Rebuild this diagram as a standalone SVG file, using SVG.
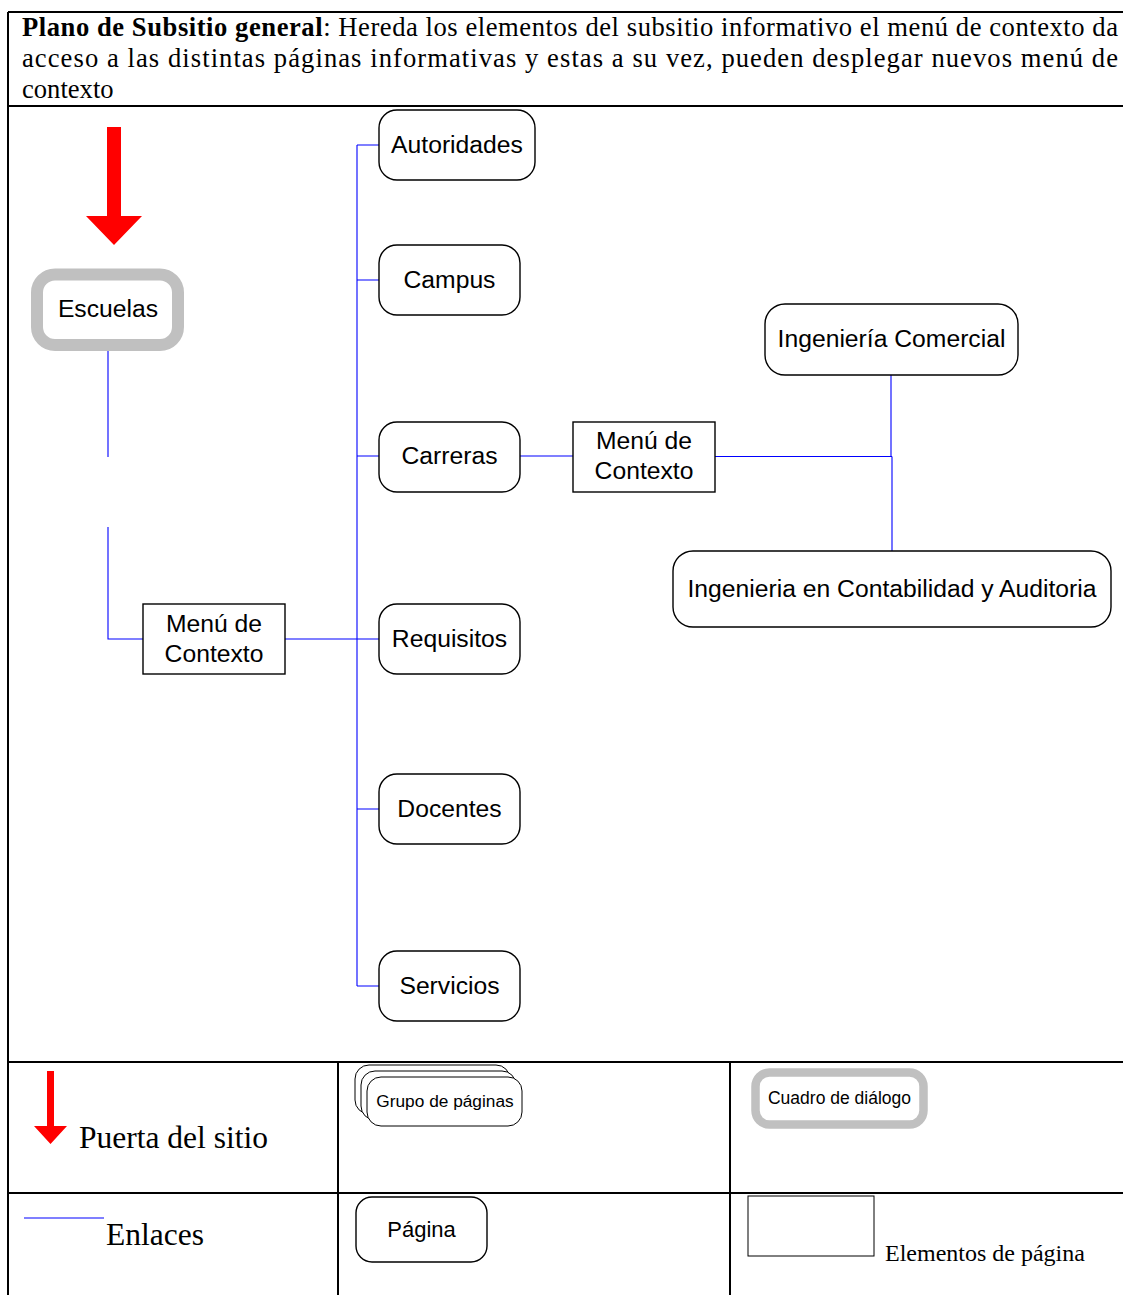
<svg xmlns="http://www.w3.org/2000/svg" width="1123" height="1295" viewBox="0 0 1123 1295">
<style>
.tb{stroke:#000;stroke-width:2;fill:none}
.pg{fill:#fff;stroke:#000;stroke-width:1.4}
.el{fill:#fff;stroke:#000;stroke-width:1.4}
.dlg{fill:#fff;stroke:#c0c0c0;stroke-width:12}
.lk{stroke:#0000ff;stroke-width:1.1;fill:none}
.a{font-family:"Liberation Sans",Arial,sans-serif;fill:#000;text-anchor:middle}
.n{font-size:24.7px}
.t{font-family:"Liberation Serif","Times New Roman",serif;fill:#000}
.arrow{fill:#ff0000}
</style>
<rect width="1123" height="1295" fill="#fff"/>
<g id="table">
<path class="tb" d="M8 12 H1130 M8 106 H1130 M8 1062 H1130 M8 1193 H1130 M8 12 V1300 M338 1062 V1300 M730 1062 V1300"/>
</g>
<g id="title" class="t" style="font-size:26.6px">
<text x="22" y="36" textLength="1096" lengthAdjust="spacing"><tspan font-weight="bold">Plano de Subsitio general</tspan>: Hereda los elementos del subsitio informativo el menú de contexto da</text>
<text x="22" y="67" textLength="1096" lengthAdjust="spacing">acceso a las distintas páginas informativas y estas a su vez, pueden desplegar nuevos menú de</text>
<text x="22" y="98">contexto</text>
</g>
<g id="connectors">
<path class="lk" d="M108 345 V457 M108 527 V639 H143 M285 639 H379 M357 145 V986 M357 145 H379 M357 280 H379 M357 456 H379 M357 809 H379 M357 986 H379 M520 456 H573 M715 456.5 H892 M891 375 V456.5 M892 456.5 V551"/>
</g>
<g id="entry-arrow">
<polygon class="arrow" points="107,127 121,127 121,216 142,216 114,245 86,216 107,216"/>
</g>
<g id="escuelas">
<rect class="dlg" x="37" y="274.5" width="141" height="70.5" rx="18"/>
<text class="a n" x="108" y="317">Escuelas</text>
</g>
<g id="menu1">
<rect class="el" x="143" y="604" width="142" height="70"/>
<text class="a n" x="214" y="632">Menú de</text>
<text class="a n" x="214" y="662">Contexto</text>
</g>
<g id="autoridades">
<rect class="pg" x="379" y="110" width="156" height="70" rx="18"/>
<text class="a n" x="457" y="153">Autoridades</text>
</g>
<g id="campus">
<rect class="pg" x="379" y="245" width="141" height="70" rx="18"/>
<text class="a n" x="449.5" y="288">Campus</text>
</g>
<g id="carreras">
<rect class="pg" x="379" y="422" width="141" height="70" rx="18"/>
<text class="a n" x="449.5" y="464">Carreras</text>
</g>
<g id="requisitos">
<rect class="pg" x="379" y="604" width="141" height="70" rx="18"/>
<text class="a n" x="449.5" y="647">Requisitos</text>
</g>
<g id="docentes">
<rect class="pg" x="379" y="774" width="141" height="70" rx="18"/>
<text class="a n" x="449.5" y="817">Docentes</text>
</g>
<g id="servicios">
<rect class="pg" x="379" y="951" width="141" height="70" rx="18"/>
<text class="a n" x="449.5" y="994">Servicios</text>
</g>
<g id="menu2">
<rect class="el" x="573" y="422" width="142" height="70"/>
<text class="a n" x="644" y="449">Menú de</text>
<text class="a n" x="644" y="479">Contexto</text>
</g>
<g id="ing-comercial">
<rect class="pg" x="765" y="304" width="253" height="71" rx="20"/>
<text class="a n" x="891.5" y="347">Ingeniería Comercial</text>
</g>
<g id="ing-contabilidad">
<rect class="pg" x="673" y="551" width="438" height="76" rx="20"/>
<text class="a n" x="892" y="597">Ingenieria en Contabilidad y Auditoria</text>
</g>
<g id="legend-puerta">
<polygon class="arrow" points="47,1071 54,1071 54,1126 67,1126 50.5,1144 34,1126 47,1126"/>
<text class="t" x="79" y="1148" style="font-size:31.5px">Puerta del sitio</text>
</g>
<g id="legend-grupo">
<rect class="pg" x="355" y="1065" width="155" height="49" rx="14" style="stroke-width:1"/>
<rect class="pg" x="361" y="1071" width="155" height="49" rx="14" style="stroke-width:1"/>
<rect class="pg" x="367" y="1077" width="155" height="49" rx="14" style="stroke-width:1"/>
<text class="a" x="445" y="1107" style="font-size:17.3px">Grupo de páginas</text>
</g>
<g id="legend-dialogo">
<rect class="dlg" x="755.5" y="1072.5" width="168" height="52" rx="14" style="stroke-width:8.5"/>
<text class="a" x="839.5" y="1104" style="font-size:17.5px">Cuadro de diálogo</text>
</g>
<g id="legend-enlaces">
<path class="lk" d="M24 1218 H104"/>
<text class="t" x="106" y="1245" style="font-size:31.5px">Enlaces</text>
</g>
<g id="legend-pagina">
<rect class="pg" x="356" y="1197" width="131" height="65" rx="16"/>
<text class="a" x="421.5" y="1237" style="font-size:22px">Página</text>
</g>
<g id="legend-elementos">
<rect class="el" x="748" y="1196" width="126" height="60" style="stroke-width:1"/>
<text class="t" x="885" y="1261" style="font-size:24px">Elementos de página</text>
</g>
</svg>
